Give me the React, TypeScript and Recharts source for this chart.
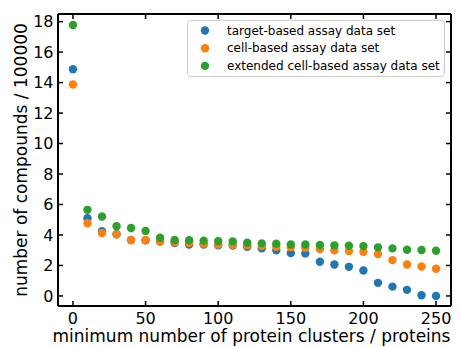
import React from "react";
import {
  ScatterChart,
  Scatter,
  XAxis,
  YAxis,
  Legend,
} from "recharts";

const FONT = "DejaVu Sans, sans-serif";

const clusters = [
  0, 10, 20, 30, 40, 50, 60, 70, 80, 90, 100, 110, 120, 130, 140, 150, 160,
  170, 180, 190, 200, 210, 220, 230, 240, 250,
];

const targetBased = [
  14.88, 5.1, 4.24, 4.05, 3.68, 3.65, 3.57, 3.47, 3.38, 3.38, 3.32, 3.3, 3.23,
  3.12, 2.99, 2.81, 2.79, 2.24, 2.06, 1.91, 1.67, 0.86, 0.61, 0.4, 0.05, 0.0,
];

const cellBased = [
  13.87, 4.77, 4.13, 4.04, 3.65, 3.65, 3.58, 3.52, 3.47, 3.43, 3.38, 3.36, 3.32,
  3.27, 3.23, 3.2, 3.16, 3.07, 2.99, 2.95, 2.9, 2.75, 2.35, 2.06, 1.93, 1.78,
];

const extendedCellBased = [
  17.78, 5.65, 5.21, 4.57, 4.46, 4.26, 3.82, 3.67, 3.65, 3.63, 3.6, 3.58, 3.49,
  3.45, 3.43, 3.38, 3.38, 3.34, 3.32, 3.3, 3.27, 3.19, 3.12, 3.03, 3.01, 2.97,
];

const xTicks = [0, 50, 100, 150, 200, 250];
const yTicks = [0, 2, 4, 6, 8, 10, 12, 14, 16, 18];

const series = [
  { name: "target-based assay data set", values: targetBased, color: "#1f77b4" },
  { name: "cell-based assay data set", values: cellBased, color: "#ff7f0e" },
  {
    name: "extended cell-based assay data set",
    values: extendedCellBased,
    color: "#2ca02c",
  },
];

const toPoints = (values: number[]) =>
  clusters.map((x, i) => ({ x, y: values[i] }));

const BottomTick = (props: any) => {
  const { x, y, payload } = props;
  return (
    <g>
      <line x1={x} x2={x} y1={y} y2={y - 5} stroke="#000" strokeWidth={1.5} />
      <text x={x} y={y + 17.5} textAnchor="middle" fontSize={16} fontFamily={FONT} fill="#000">
        {payload.value}
      </text>
    </g>
  );
};

const TopTick = (props: any) => {
  const { x, y } = props;
  return <line x1={x} x2={x} y1={y} y2={y + 5} stroke="#000" strokeWidth={1.5} />;
};

const LeftTick = (props: any) => {
  const { x, y, payload } = props;
  return (
    <g>
      <line x1={x} x2={x + 5} y1={y} y2={y} stroke="#000" strokeWidth={1.5} />
      <text x={x - 4.5} y={y + 5.8} textAnchor="end" fontSize={16} fontFamily={FONT} fill="#000">
        {payload.value}
      </text>
    </g>
  );
};

const RightTick = (props: any) => {
  const { x, y } = props;
  return <line x1={x} x2={x - 5} y1={y} y2={y} stroke="#000" strokeWidth={1.5} />;
};

const dot = (color: string) => (props: any) =>
  <circle cx={props.cx} cy={props.cy} r={4.2} fill={color} />;

const LegendBox = () => (
  <svg width={258} height={57} style={{ display: "block" }}>
    <rect x={0.5} y={0.5} width={257} height={56} rx={3} fill="rgba(255,255,255,0.8)" stroke="#cccccc" />
    {series.map((s, i) => (
      <g key={s.name}>
        <circle cx={18} cy={10.5 + i * 17.7} r={4.2} fill={s.color} />
        <text x={40} y={10.5 + i * 17.7} dominantBaseline="central" fontSize={12} fontFamily={FONT} fill="#000">
          {s.name}
        </text>
      </g>
    ))}
  </svg>
);

const App = () => {
  return (
    <div style={{ position: "absolute", left: 0, top: 0, background: "#fff" }}>
      <ScatterChart
        width={460}
        height={347}
        margin={{ top: 13, right: 8, left: 0, bottom: 0 }}
      >
        <XAxis
          xAxisId="bottom"
          dataKey="x"
          type="number"
          domain={[-10.3, 260.3]}
          allowDataOverflow
          ticks={xTicks}
          height={41}
          tickSize={0}
          tickMargin={0}
          tickLine={false}
          axisLine={{ stroke: "#000", strokeWidth: 2 }}
          tick={<BottomTick />}
          label={{
            content: (p: any) => (
              <text
                x={p.viewBox.x + p.viewBox.width / 2 - 3}
                y={p.viewBox.y + 36}
                textAnchor="middle"
                fontSize={17}
                fontFamily={FONT}
                fill="#000"
              >
                minimum number of protein clusters / proteins
              </text>
            ),
          }}
        />
        <XAxis
          xAxisId="top"
          orientation="top"
          dataKey="x"
          type="number"
          domain={[-10.3, 260.3]}
          allowDataOverflow
          ticks={xTicks}
          height={1}
          tickSize={0}
          tickMargin={0}
          tickLine={false}
          axisLine={{ stroke: "#000", strokeWidth: 2 }}
          tick={<TopTick />}
        />
        <YAxis
          yAxisId="left"
          dataKey="y"
          type="number"
          domain={[-0.66, 18.5]}
          allowDataOverflow
          ticks={yTicks}
          width={58}
          tickSize={0}
          tickMargin={0}
          tickLine={false}
          axisLine={{ stroke: "#000", strokeWidth: 2 }}
          tick={<LeftTick />}
          label={{
            content: (p: any) => {
              const cy = p.viewBox.y + p.viewBox.height / 2;
              return (
                <text
                  x={27}
                  y={cy}
                  transform={`rotate(-90, 27, ${cy})`}
                  textAnchor="middle"
                  fontSize={17}
                  fontFamily={FONT}
                  fill="#000"
                >
                  number of compounds / 100000
                </text>
              );
            },
          }}
        />
        <YAxis
          yAxisId="right"
          orientation="right"
          dataKey="y"
          type="number"
          domain={[-0.66, 18.5]}
          allowDataOverflow
          ticks={yTicks}
          width={1}
          tickSize={0}
          tickMargin={0}
          tickLine={false}
          axisLine={{ stroke: "#000", strokeWidth: 2 }}
          tick={<RightTick />}
        />
        {series.map((s, i) => (
          <Scatter
            key={s.name}
            name={s.name}
            xAxisId={i === 2 ? "top" : "bottom"}
            yAxisId={i === 2 ? "right" : "left"}
            data={toPoints(s.values)}
            fill={s.color}
            shape={dot(s.color)}
            isAnimationActive={false}
          />
        ))}
        <Legend
          layout="horizontal"
          verticalAlign="middle"
          align="center"
          wrapperStyle={{ position: "absolute", left: 187, top: 20, width: 258, height: 57 }}
          content={() => <LegendBox />}
        />
      </ScatterChart>
    </div>
  );
};

export default App;
